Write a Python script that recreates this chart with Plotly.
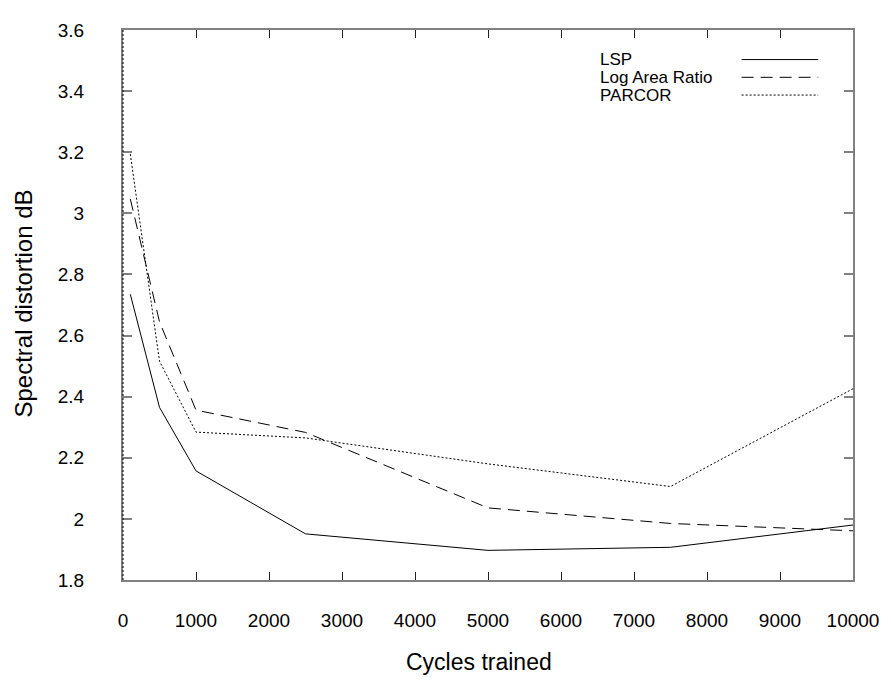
import plotly.graph_objects as go

cycles = [100, 500, 1000, 2500, 5000, 7500, 10000]
lsp = [2.735, 2.365, 2.157, 1.951, 1.897, 1.907, 1.980]
log_area_ratio = [3.047, 2.645, 2.356, 2.283, 2.036, 1.985, 1.961]
parcor = [3.194, 2.516, 2.284, 2.265, 2.180, 2.106, 2.426]

series_names = ["LSP", "Log Area Ratio", "PARCOR"]
series_dash = ["solid", "12px,7px", "2px,2px"]

x_ticks = [0, 1000, 2000, 3000, 4000, 5000, 6000, 7000, 8000, 9000, 10000]
y_ticks = [1.8, 2.0, 2.2, 2.4, 2.6, 2.8, 3.0, 3.2, 3.4, 3.6]
y_tick_text = ["1.8", "2", "2.2", "2.4", "2.6", "2.8", "3", "3.2", "3.4", "3.6"]

FONT = "Liberation Sans, Arial, sans-serif"

# page body has an 8px margin; plot area spans x 123..857, y 22..580 in the window
W, H = 883, 673
PL, PT = 123 - 8, 22 - 8
PR, PB = 891 - 857, 681 - 580
plot_w, plot_h = 857 - 123, 580 - 22

def px(xw):
    return (xw - 123) / plot_w

def py(yw):
    return (580 - yw) / plot_h

fig = go.Figure()
for name, ys, dash in zip(series_names, [lsp, log_area_ratio, parcor], series_dash):
    fig.add_trace(go.Scatter(x=cycles, y=ys, mode="lines", name=name,
                             line=dict(color="#000000", width=1, dash=dash),
                             showlegend=False))

# legend drawn gnuplot style: text on the left, line sample on the right
legend_rows = [52, 70, 88]
for name, dash, ly in zip(series_names, series_dash, legend_rows):
    fig.add_annotation(xref="paper", yref="paper", x=px(601), y=py(ly), text=name,
                       showarrow=False, xanchor="left", yanchor="middle",
                       font=dict(family=FONT, size=17, color="#000"))
    fig.add_shape(type="line", xref="paper", yref="paper", x0=px(745), x1=px(822),
                  y0=py(ly), y1=py(ly), line=dict(color="#000", width=1, dash=dash))

# dotted overlay along the left frame
fig.add_shape(type="line", xref="paper", yref="paper", x0=0, x1=0, y0=0, y1=1,
              line=dict(color="#000", width=1, dash="2px,2px"))

# axis titles
fig.add_annotation(xref="paper", yref="paper", x=px(481), y=py(663), text="Cycles trained",
                   showarrow=False, xanchor="center", yanchor="middle",
                   font=dict(family=FONT, size=23, color="#000"))
fig.add_annotation(xref="paper", yref="paper", x=px(22), y=py(300), text="Spectral distortion dB",
                   showarrow=False, xanchor="center", yanchor="middle", textangle=-90,
                   font=dict(family=FONT, size=24, color="#000"))

fig.update_layout(
    width=W, height=H,
    margin=dict(l=PL, r=PR, t=PT, b=PB, pad=0),
    paper_bgcolor="white", plot_bgcolor="white",
    font=dict(family=FONT, size=19, color="#000"),
)
fig.update_xaxes(
    range=[0, 10000], tickvals=x_ticks, ticktext=[str(v) for v in x_ticks],
    ticks="inside", ticklen=8, tickcolor="#222", tickwidth=1,
    showline=True, linecolor="#808080", linewidth=2, mirror="ticks",
    showgrid=False, zeroline=False, ticklabelstandoff=22,
)
fig.update_yaxes(
    range=[1.8, 3.6], tickvals=y_ticks, ticktext=y_tick_text,
    ticks="inside", ticklen=9, tickcolor="#808080", tickwidth=2,
    showline=True, linecolor="#808080", linewidth=2, mirror="ticks",
    showgrid=False, zeroline=False, ticklabelstandoff=33,
)

fig.write_html("out.html")
